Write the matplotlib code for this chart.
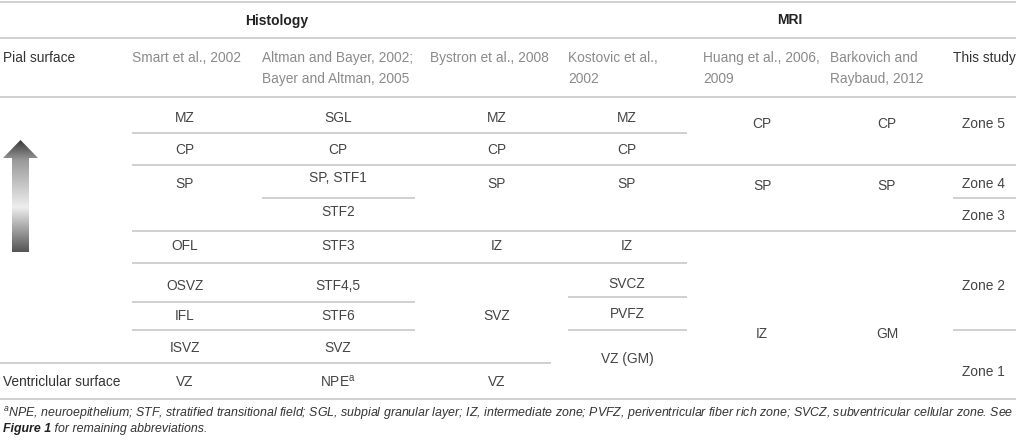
import numpy as np
import matplotlib
matplotlib.use("Agg")
import matplotlib.pyplot as plt
from matplotlib.patches import Polygon
from matplotlib.colors import LinearSegmentedColormap

plt.rcParams["font.family"] = ["Liberation Sans", "DejaVu Sans"]
plt.rcParams["mathtext.fontset"] = "custom"
plt.rcParams["mathtext.rm"] = "Liberation Sans"
plt.rcParams["mathtext.it"] = "Liberation Sans:italic"

# -----------------------------
# table content
# -----------------------------
group_titles = ["Histology", "MRI"]
header_cols = [
    "Pial surface",
    "Smart et al., 2002",
    "Altman and Bayer, 2002;\nBayer and Altman, 2005",
    "Bystron et al., 2008",
    "Kostovic et al.,\n2002",
    "Huang et al., 2006,\n2009",
    "Barkovich and\nRaybaud, 2012",
    "This study",
]
bottom_label = "Ventriclular surface"

smart = ["MZ", "CP", "SP", "OFL", "OSVZ", "IFL", "ISVZ", "VZ"]
altman = ["SGL", "CP", "SP, STF1", "STF2", "STF3", "STF4,5", "STF6", "SVZ", "NPE$^{\\mathrm{a}}$"]
bystron = ["MZ", "CP", "SP", "IZ", "SVZ", "VZ"]
kostovic = ["MZ", "CP", "SP", "IZ", "SVCZ", "PVFZ", "VZ (GM)"]
huang = ["CP", "SP", "IZ"]
barkovich = ["CP", "SP", "GM"]
this_study = ["Zone 5", "Zone 4", "Zone 3", "Zone 2", "Zone 1"]

footnote_1 = ("$^{a}$NPE, neuroepithelium; STF, stratified transitional field; SGL, subpial granular layer; "
              "IZ, intermediate zone; PVFZ, periventricular fiber rich zone; SVCZ, subventricular cellular zone. See")
footnote_2_bold = "Figure 1"
footnote_2 = " for remaining abbreviations."

# -----------------------------
# layout (pixels, y down)
# -----------------------------
W, H = 1016, 442
col_left = [3, 132, 262, 430, 568, 703, 830, 953]
col_center = [None, 185, 338, 497, 627, 762, 887, 983]

smart_y = [117, 148, 183, 244, 285, 315, 347, 380]
altman_y = [117, 148, 176, 211, 244, 285, 315, 347, 380]
bystron_y = [117, 148, 183, 244, 315, 380]
kostovic_y = [117, 148, 183, 244, 283, 313, 358]
huang_y = [122, 185, 332]
barkovich_y = [122, 185, 332]
this_y = [122, 183, 215, 285, 370]

rules = [
    (2, 0, 1016), (38, 0, 1016), (97, 0, 1016),
    (133, 132, 687),
    (165, 132, 1016),
    (198, 262, 415), (198, 953, 1016),
    (231, 132, 1016),
    (263, 132, 687),
    (297, 568, 687),
    (302, 132, 415),
    (330, 132, 415), (330, 568, 687), (330, 953, 1016),
    (363, 0, 551),
    (399, 0, 1016),
]

fig = plt.figure(figsize=(W / 100, H / 100), dpi=100)
ax = fig.add_axes([0, 0, 1, 1])
ax.set_xlim(0, W)
ax.set_ylim(H, 0)
ax.axis("off")

line_color = "#c4c4c4"
cell_color = "#444444"
cite_color = "#8a8a8a"
dark = "#333333"
fs = 9.9
dy = 1.5  # matplotlib 'center' sits a little high for caps

for y, x0, x1 in rules:
    ax.hlines(y, x0, x1, color=line_color, linewidth=1.1)

# group titles
ax.text(277, 19 + dy, group_titles[0], ha="center", va="center", fontsize=10, fontweight="bold", color="#222222")
ax.text(790, 19 + dy, group_titles[1], ha="center", va="center", fontsize=10, fontweight="bold", color="#222222")

# column headers
for i, label in enumerate(header_cols):
    color = dark if i in (0, len(header_cols) - 1) else cite_color
    ax.text(col_left[i], 51, label, ha="left", va="top", fontsize=fs, color=color, linespacing=1.6)

ax.text(col_left[0], 380 + dy, bottom_label, ha="left", va="center", fontsize=fs, color=dark)

columns = [smart, altman, bystron, kostovic, huang, barkovich, this_study]
columns_y = [smart_y, altman_y, bystron_y, kostovic_y, huang_y, barkovich_y, this_y]
for ci, (labels, ys) in enumerate(zip(columns, columns_y), start=1):
    for label, y in zip(labels, ys):
        ax.text(col_center[ci], y + dy, label, ha="center", va="center", fontsize=fs, color=cell_color)

# gradient arrow
arrow_pts = [(12, 252), (12, 158), (3, 158), (20.5, 140), (38, 158), (29, 158), (29, 252)]
arrow = Polygon(arrow_pts, closed=True, facecolor="none", edgecolor="none")
ax.add_patch(arrow)
grad_cmap = LinearSegmentedColormap.from_list(
    "arrow", [(0.0, "#3a3a3a"), (0.18, "#9a9a9a"), (0.6, "#eeeeee"), (1.0, "#555555")])
grad = np.linspace(0, 1, 200).reshape(-1, 1)
im = ax.imshow(grad, cmap=grad_cmap, extent=(3, 38, 252, 140), aspect="auto", origin="upper", zorder=2)
im.set_clip_path(arrow)

# footnote
fn = 8.9
ax.text(3, 413, footnote_1, ha="left", va="center", fontsize=fn, style="italic", color="#333333")
t = ax.text(3, 429, footnote_2_bold, ha="left", va="center", fontsize=fn, style="italic",
            fontweight="bold", color="#222222")
fig.canvas.draw()
bb = t.get_window_extent().transformed(ax.transData.inverted())
ax.text(bb.x1, 429, footnote_2, ha="left", va="center", fontsize=fn, style="italic", color="#333333")

fig.savefig("out.png", dpi=100)
